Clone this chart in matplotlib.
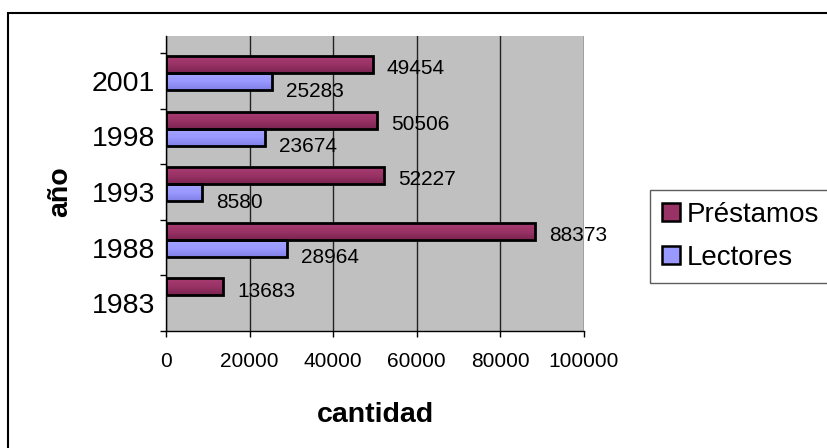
import matplotlib
matplotlib.use('Agg')
import matplotlib.pyplot as plt
import numpy as np
from matplotlib.patches import Rectangle
from matplotlib.colors import LinearSegmentedColormap

plt.rcParams['font.family'] = ['Liberation Sans', 'DejaVu Sans']

years = ['1983', '1988', '1993', '1998', '2001']
prestamos = [13683, 88373, 52227, 50506, 49454]
lectores = [None, 28964, 8580, 23674, 25283]   # no lectores bar for 1983
xticks = [0, 20000, 40000, 60000, 80000, 100000]

W, H = 828, 448
fig = plt.figure(figsize=(W / 100, H / 100), dpi=100)
ax = fig.add_axes([166 / W, 1 - 331 / H, (584 - 166) / W, (331 - 36) / H])
ax.set_facecolor('#C0C0C0')

y = np.arange(len(years))
bh = 0.305

cm_p = LinearSegmentedColormap.from_list('p', ['#7a2450', '#993366', '#a83c72'])
cm_l = LinearSegmentedColormap.from_list('l', ['#7f7fe6', '#9999ff', '#a3a3ff'])


def shade(bars, cmap):
    # vertical gradient inside each bar, like the old excel look
    grad = np.linspace(0, 1, 64).reshape(-1, 1)
    for b in bars:
        x0, y0, w, h = b.get_x(), b.get_y(), b.get_width(), b.get_height()
        im = ax.imshow(grad, cmap=cmap, extent=(x0, x0 + w, y0, y0 + h),
                       origin='lower', aspect='auto', zorder=2.9)
        im.set_clip_path(b)
        b.set_facecolor('none')


bars_p = ax.barh(y + 0.293, prestamos, height=bh, color='#993366',
                 edgecolor='black', linewidth=2, zorder=3, label='Préstamos')
ly = [yy - 0.012 for yy, v in zip(y, lectores) if v is not None]
lv = [v for v in lectores if v is not None]
bars_l = ax.barh(ly, lv, height=bh, color='#9999FF',
                 edgecolor='black', linewidth=2, zorder=3, label='Lectores')
shade(bars_p, cm_p)
shade(bars_l, cm_l)

for yy, v in zip(y + 0.293, prestamos):
    ax.annotate(str(v), xy=(v, yy), xytext=(10, -3), textcoords='offset points',
                ha='left', va='center', fontsize=15, zorder=5)
for yy, v in zip(ly, lv):
    ax.annotate(str(v), xy=(v, yy), xytext=(10, -7), textcoords='offset points',
                ha='left', va='center', fontsize=15, zorder=5)

ax.set_xlim(0, 100000)
ax.set_ylim(-0.5, 4.806)
ax.set_xticks(xticks)
ax.set_xticklabels([str(t) for t in xticks])
ax.set_yticks(y)
ax.set_yticklabels(years)
ax.set_yticks(np.arange(-0.5, len(years), 1), minor=True)
ax.tick_params(axis='y', which='major', length=0, pad=8, labelsize=20.5)
ax.tick_params(axis='y', which='minor', length=4, width=1, direction='out')
ax.tick_params(axis='x', length=4, width=1, direction='out', pad=11, labelsize=15)

ax.xaxis.grid(True, color='#222222', linewidth=1)
ax.set_axisbelow(True)
for s in ['top', 'right']:
    ax.spines[s].set_visible(False)
for s in ['left', 'bottom']:
    ax.spines[s].set_linewidth(1)
    ax.spines[s].set_zorder(4)

fig.text(375 / W, 1 - 415 / H, 'cantidad', ha='center', va='center',
         fontsize=20.5, fontweight='bold')
fig.text(60 / W, 1 - 192 / H, 'año', ha='center', va='center',
         rotation=90, fontsize=20.5, fontweight='bold')

handles = [Rectangle((0, 0), 1, 1, facecolor='#993366', edgecolor='black', linewidth=1.8),
           Rectangle((0, 0), 1, 1, facecolor='#9999FF', edgecolor='black', linewidth=1.8)]
leg = fig.legend(handles, ['Préstamos', 'Lectores'], loc='upper left',
                 bbox_to_anchor=(650 / W, 1 - 190 / H), borderaxespad=0,
                 fontsize=20, frameon=True, fancybox=False, edgecolor='#333333',
                 handlelength=0.65, handleheight=0.65, handletextpad=0.25,
                 borderpad=0.42, labelspacing=0.62)
leg.get_frame().set_linewidth(1)

# chart border, cut off on the right and bottom like the original
fig.patches.append(Rectangle((8 / W, -0.1), 1.2, 1.1 - 13 / H, transform=fig.transFigure,
                             fill=False, edgecolor='black', linewidth=1.5))

fig.savefig('out.png', dpi=100)
